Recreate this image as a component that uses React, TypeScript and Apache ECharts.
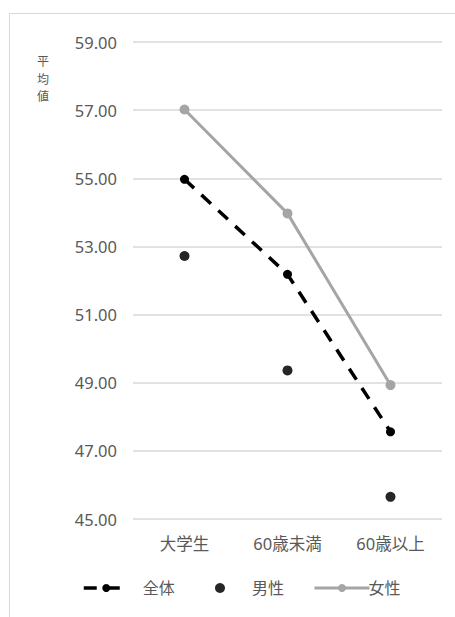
import React, { useEffect, useRef } from "react";
import * as echarts from "echarts";

const categories = ["大学生", "60歳未満", "60歳以上"];
const zentai = [54.97, 52.18, 47.56];
const dansei = [52.72, 49.36, 45.65];
const josei = [57.02, 53.97, 48.93];
const yTicks = { min: 45, max: 59, interval: 2 };
const yName = ["平", "均", "値"];

export default function App() {
  const ref = useRef<HTMLDivElement>(null);
  useEffect(() => {
    const chart = echarts.init(ref.current!, undefined, { renderer: "svg" });
    const font = "'Noto Sans', 'Noto Sans CJK JP', sans-serif";
    const legendText = { color: "#595959", fontSize: 16, fontFamily: font };
    chart.setOption({
      animation: false,
      textStyle: { fontFamily: font },
      grid: { left: 133, right: 13, top: 42, bottom: 98 },
      graphic: [
        {
          type: "rect",
          shape: { x: 9.5, y: 13.5, width: 470, height: 640 },
          style: { fill: "none", stroke: "#d9d9d9", lineWidth: 1 },
          silent: true,
        },
        ...yName.map((ch, i) => ({
          type: "text",
          x: 43,
          y: 55 + i * 17.5,
          style: {
            text: ch,
            fontSize: 12,
            lineHeight: 13,
            fill: "#595959",
            align: "center",
            fontFamily: font,
          },
        })),
      ],
      xAxis: {
        type: "category",
        data: categories,
        axisLine: { show: false },
        axisTick: { show: false },
        axisLabel: { color: "#595959", fontSize: 16.5, margin: 16, fontFamily: font },
      },
      yAxis: {
        type: "value",
        min: yTicks.min,
        max: yTicks.max,
        interval: yTicks.interval,
        axisLine: { show: false },
        axisTick: { show: false },
        splitLine: { lineStyle: { color: "#d9d9d9", width: 1.5 } },
        axisLabel: {
          color: "#595959",
          fontSize: 16.5,
          margin: 16,
          fontFamily: font,
          formatter: (v: number) => v.toFixed(2),
        },
      },
      legend: [
        {
          top: 575,
          left: 77,
          itemWidth: 45,
          itemHeight: 10,
          lineStyle: { width: 3.5 },
          textStyle: { ...legendText, padding: [0, 0, 0, 9] },
          data: ["全体"],
        },
        {
          top: 575,
          left: 210,
          itemWidth: 46,
          itemHeight: 10,
          textStyle: { ...legendText, padding: [0, 0, 0, 4] },
          data: ["男性"],
        },
        {
          top: 575,
          left: 308,
          itemWidth: 55,
          itemHeight: 10,
          lineStyle: { width: 3 },
          textStyle: { ...legendText, padding: [0, 0, 0, -6] },
          data: ["女性"],
        },
      ],
      series: [
        {
          name: "全体",
          type: "line",
          data: zentai,
          symbol: "circle",
          symbolSize: 9,
          lineStyle: { color: "#000", width: 3.5, type: [13, 10] },
          itemStyle: { color: "#000" },
          z: 3,
        },
        {
          name: "男性",
          type: "scatter",
          data: dansei,
          symbol: "circle",
          symbolSize: 10,
          itemStyle: { color: "#262626", opacity: 1 },
        },
        {
          name: "女性",
          type: "line",
          data: josei,
          symbol: "circle",
          symbolSize: 10,
          lineStyle: { color: "#a5a5a5", width: 3 },
          itemStyle: { color: "#a5a5a5" },
        },
      ],
    });
    return () => chart.dispose();
  }, []);
  return <div ref={ref} style={{ width: 455, height: 617, position: "absolute", left: 0, top: 0 }} />;
}
